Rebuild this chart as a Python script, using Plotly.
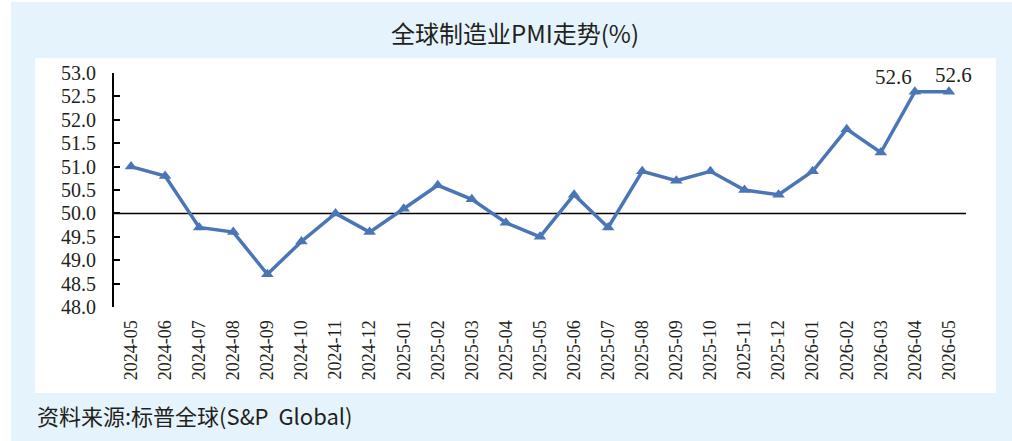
import plotly.graph_objects as go

months = ["2024-05", "2024-06", "2024-07", "2024-08", "2024-09", "2024-10", "2024-11",
          "2024-12", "2025-01", "2025-02", "2025-03", "2025-04", "2025-05", "2025-06",
          "2025-07", "2025-08", "2025-09", "2025-10", "2025-11", "2025-12", "2026-01",
          "2026-02", "2026-03", "2026-04", "2026-05"]
pmi = [51.0, 50.8, 49.7, 49.6, 48.7, 49.4, 50.0, 49.6, 50.1, 50.6, 50.3, 49.8, 49.5, 50.4,
       49.7, 50.9, 50.7, 50.9, 50.5, 50.4, 50.9, 51.8, 51.3, 52.6, 52.6]
y_ticks = [48.0, 48.5, 49.0, 49.5, 50.0, 50.5, 51.0, 51.5, 52.0, 52.5, 53.0]
title_text = "全球制造业PMI走势(%)"
source_text = "资料来源:标普全球(S&P\u00a0\u00a0Global)"
ref_level = 50.0

W, H = 1012, 441
L, R, T, B = 114, 966, 73, 307  # plot area in pixels


def px(x):
    return (x - L) / (R - L)


def py(y):
    return (B - y) / (B - T)


BLUE = "#4a76b6"
LIGHT = "#e5f4fc"
TXT = "#231f20"
SERIF = "Liberation Serif, Times New Roman, serif"
CJK = "Noto Sans CJK SC, sans-serif"

fig = go.Figure()
fig.add_trace(go.Scatter(
    x=months, y=pmi, mode="lines+markers",
    line=dict(color=BLUE, width=3.5),
    marker=dict(symbol="triangle-up", size=11, color=BLUE),
    hoverinfo="x+y", showlegend=False,
))

shapes = [
    dict(type="rect", xref="paper", yref="paper", x0=px(-5), x1=px(11), y0=py(450), y1=py(-5),
         fillcolor="white", line=dict(width=0), layer="below"),
    dict(type="rect", xref="paper", yref="paper", x0=px(-5), x1=px(1020), y0=py(2), y1=py(-5),
         fillcolor="white", line=dict(width=0), layer="below"),
    dict(type="rect", xref="paper", yref="paper", x0=px(35), x1=px(996), y0=py(393), y1=py(58),
         fillcolor="white", line=dict(width=0), layer="below"),
    dict(type="line", xref="paper", yref="y", x0=0, x1=1, y0=ref_level, y1=ref_level,
         line=dict(color="black", width=1.5), layer="below"),
]

annotations = [
    dict(text=title_text, xref="paper", yref="paper", x=px(515), y=py(33), showarrow=False,
         font=dict(family=CJK, size=24, color=TXT), xanchor="center", yanchor="middle"),
    dict(text=source_text, xref="paper", yref="paper", x=px(35), y=py(415), showarrow=False,
         font=dict(family=CJK, size=22, color=TXT), xanchor="left", yanchor="middle"),
    dict(text=f"{pmi[-2]:.1f}", x=months[-2], y=pmi[-2], xref="x", yref="y", showarrow=False,
         xshift=-21, yshift=15, font=dict(family=SERIF, size=21, color=TXT)),
    dict(text=f"{pmi[-1]:.1f}", x=months[-1], y=pmi[-1], xref="x", yref="y", showarrow=False,
         xshift=5, yshift=17, font=dict(family=SERIF, size=21, color=TXT)),
]

fig.update_layout(
    width=W, height=H,
    margin=dict(l=L, r=W - R, t=T, b=H - B, pad=0),
    paper_bgcolor=LIGHT, plot_bgcolor="white",
    shapes=shapes, annotations=annotations,
    xaxis=dict(type="category", range=[-0.5, len(months) - 0.5], showgrid=False,
               showline=False, zeroline=False,
               tickangle=-90, ticks="outside", ticklen=5, tickcolor="rgba(0,0,0,0)",
               tickfont=dict(family=SERIF, size=18, color=TXT)),
    yaxis=dict(range=[48, 53], tickvals=y_ticks, ticktext=[f"{v:.1f}" for v in y_ticks],
               showgrid=False, zeroline=False, showline=True, linecolor="black", linewidth=2,
               ticks="inside", ticklen=6, tickwidth=2, tickcolor="black", ticklabelstandoff=12,
               tickfont=dict(family=SERIF, size=20, color=TXT)),
)

fig.write_html("out.html", config={"displayModeBar": False},
               post_script="document.body.style.margin='0';"
                           "document.documentElement.style.overflow='hidden';"
                           "document.body.style.overflow='hidden';"
                           "document.documentElement.style.background='" + LIGHT + "';"
                           "document.body.style.background='" + LIGHT + "';")
